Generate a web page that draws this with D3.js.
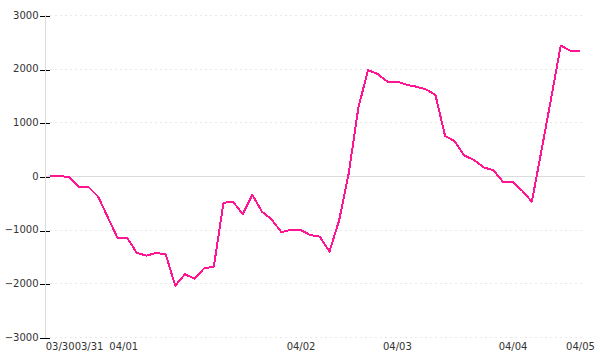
<!DOCTYPE html>
<html>
<head>
<meta charset="utf-8">
<script src="https://cdn.jsdelivr.net/npm/d3@7"></script>
<style>
  html, body { margin: 0; padding: 0; background: #fff; }
  svg { display: block; }
</style>
</head>
<body>
<svg id="chart" width="600" height="360"></svg>
<script>

// one value per sample, evenly spaced along the x axis
const values = [
  0, 0, -20, -205, -205, -385, -770, -1150, -1150, -1430,
  -1485, -1435, -1455, -2045, -1830, -1915, -1720, -1690, -500, -480,
  -710, -350, -665, -810, -1045, -1005, -1005, -1100, -1130, -1410,
  -830, 50, 1270, 1975, 1900, 1760, 1760, 1700, 1665, 1615,
  1510, 745, 650, 380, 300, 160, 110, -105, -105, -275,
  -480, 475, 1440, 2430, 2335, 2335
];

// where each date label sits (sample index) and its text
const dateTicks = [1, 4, 7.6, 26, 36, 48, 55];
const dateLabels = ['03/30', '03/31', '04/01', '04/02', '04/03', '04/04', '04/05'];

const yTicks = [-3000, -2000, -1000, 0, 1000, 2000, 3000];


const width = 600, height = 360;
const svg = d3.select('#chart');

const x = d3.scaleLinear()
    .domain([0, values.length - 1])
    .range([50, 580]);

const y = d3.scaleLinear()
    .domain([-3000, 3000])
    .range([337, 15]);


const appendGrid = (svg) => {
  svg.append('g')
      .attr('class', 'grid')
    .selectAll('line')
      .data(yTicks)
      .enter()
      .append('line')
        .attr('x1', 45)
        .attr('x2', 585)
        .attr('y1', (d) => Math.round(y(d)) + 0.5)
        .attr('y2', (d) => Math.round(y(d)) + 0.5)
        .style('stroke', (d) => d === 0 ? '#dcdcdc' : '#e8e8e8')
        .style('stroke-width', 1)
        .style('stroke-dasharray', (d) => d === 0 ? null : '2,3');
}

const appendYAxis = (svg) => {
  const axis = svg.append('g')
      .attr('transform', 'translate(49.5,0)')
      .call(d3.axisLeft(y)
        .tickValues(yTicks)
        .tickSize(10)
        .tickPadding(1)
        .tickFormat(d3.format('d')));

  axis.select('.domain').remove();
  axis.selectAll('.tick line')
      .attr('transform', (d) => `translate(0,${Math.round(y(d)) + 0.5 - y(d)})`)
      .style('stroke', '#000')
      .style('shape-rendering', 'crispEdges');
  axis.selectAll('.tick text')
      .style('font-family', 'DejaVu Sans')
      .style('font-size', '10px')
      .style('fill', '#333');

  // grey spine drawn over the ticks
  svg.append('line')
      .attr('x1', 45.5)
      .attr('x2', 45.5)
      .attr('y1', 15)
      .attr('y2', 338)
      .style('stroke', '#dcdcdc')
      .style('stroke-width', 1);
}

const appendXLabels = (svg) => {
  const axis = svg.append('g')
      .attr('transform', 'translate(0,338)')
      .call(d3.axisBottom(x)
        .tickValues(dateTicks)
        .tickSize(0)
        .tickPadding(5)
        .tickFormat((d, i) => dateLabels[i]));

  axis.select('.domain').remove();
  axis.selectAll('.tick text')
      .style('font-family', 'DejaVu Sans')
      .style('font-size', '10px')
      .style('fill', '#333');
}

const appendLine = (svg) => {
  const line = d3.line()
      .x((d, i) => x(i))
      .y((d) => y(d));

  return svg.append('path')
      .datum(values)
      .attr('d', line)
      .style('fill', 'none')
      .style('stroke', '#ff1493')
      .style('stroke-width', 2)
      .style('stroke-linejoin', 'round')
      .style('shape-rendering', 'crispEdges');
}


appendGrid(svg);
appendYAxis(svg);
appendXLabels(svg);
appendLine(svg);

</script>
</body>
</html>
